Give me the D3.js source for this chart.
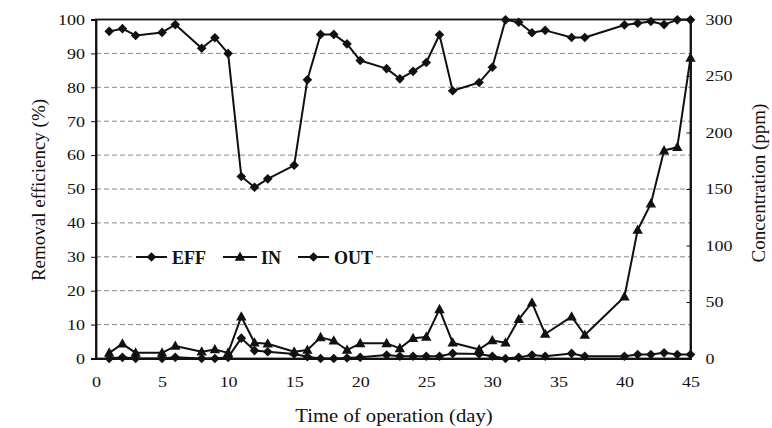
<!DOCTYPE html>
<html>
<head>
<meta charset="utf-8">
<script src="https://cdn.jsdelivr.net/npm/d3@7/dist/d3.min.js"></script>
<style>
body { margin: 0; background: #fff; }
svg text { font-family: "Liberation Serif", "Times New Roman", serif; fill: #111; }
</style>
</head>
<body>
<div id="chart"></div>
<script>
// days of operation that were sampled
var days = [1, 2, 3, 5, 6, 8, 9, 10, 11, 12, 13, 15, 16, 17, 18, 19, 20, 22, 23, 24, 25,
            26, 27, 29, 30, 31, 32, 33, 34, 36, 37, 40, 41, 42, 43, 44, 45];

// removal efficiency (%), left axis
var eff = [96.5, 97.3, 95.3, 96.2, 98.5, 91.5, 94.6, 90, 53.7, 50.5, 53, 57, 82.2, 95.6, 95.6, 92.8, 87.9, 85.5, 82.5, 84.7, 87.3,
           95.5, 79, 81.4, 85.9, 99.9, 99.2, 96.1, 96.8, 94.7, 94.7, 98.4, 98.9, 99.4, 98.5, 99.9, 99.9];

// inlet / outlet concentration (ppm), right axis
var conIn = [5, 13, 5, 5, 11, 6, 8, 5, 37, 14, 13, 6, 7.5, 18.7, 15.7, 7.5, 13.4, 13.4, 9, 18, 19,
             43.5, 14, 8, 16, 14, 34.7, 49.4, 21.7, 37, 20.8, 54.6, 113.7, 137, 184, 187, 266];
var conOut = [0, 1, 0, 0, 1, 0, 0, 1, 18, 7, 6, 4, 1.5, 0, 0, 0.5, 1, 3, 2, 2, 2,
              2, 4.5, 4, 2, 0, 1, 3, 2, 4.5, 2, 2, 3.5, 3.5, 5, 3.5, 3.5];

var xTicks = [0, 5, 10, 15, 20, 25, 30, 35, 40, 45];
var leftTicks = [0, 10, 20, 30, 40, 50, 60, 70, 80, 90, 100];
var rightTicks = [0, 50, 100, 150, 200, 250, 300];
var seriesNames = ["EFF", "IN", "OUT"];
var seriesShapes = ["diamond", "triangle", "diamond"];

var width = 772,
    height = 428;

var x = d3.scaleLinear().domain([0, 45]).range([96, 690.5]);
var y = d3.scaleLinear().domain([0, 100]).range([358.5, 19.5]);
var y2 = d3.scaleLinear().domain([0, 300]).range([358.5, 19.5]);

var shapes = {
  diamond: "M0,-4.8L4.8,0L0,4.8L-4.8,0Z",
  triangle: "M0,-5.5L5.2,3.8L-5.2,3.8Z"
};

var svg = d3.select("#chart").append("svg")
    .attr("width", width)
    .attr("height", height);

// dashed grid lines
svg.append("g")
    .attr("class", "grid")
  .selectAll("line")
    .data(leftTicks.slice(1, -1))
  .enter().append("line")
    .attr("x1", x(0))
    .attr("x2", x(45))
    .attr("y1", function(d) { return y(d); })
    .attr("y2", function(d) { return y(d); })
    .attr("stroke", "#8a8a8a")
    .attr("stroke-width", 1)
    .attr("stroke-dasharray", "5,3");

// frame
svg.append("rect")
    .attr("x", x(0))
    .attr("y", y(100))
    .attr("width", x(45) - x(0))
    .attr("height", y(0) - y(100))
    .attr("fill", "none")
    .attr("stroke", "#111")
    .attr("stroke-width", 1.8);

var xAxis = svg.append("g")
    .attr("transform", "translate(0," + y(0) + ")")
    .call(d3.axisBottom(x).tickValues(xTicks).tickSize(0).tickPadding(18));

var yAxis = svg.append("g")
    .attr("transform", "translate(" + x(0) + ",0)")
    .call(d3.axisLeft(y).tickValues(leftTicks).tickSize(5).tickPadding(6));

var yAxis2 = svg.append("g")
    .attr("transform", "translate(" + x(45) + ",0)")
    .call(d3.axisRight(y2).tickValues(rightTicks).tickSize(-4).tickPadding(15));

[xAxis, yAxis, yAxis2].forEach(function(g) {
  g.select(".domain").attr("stroke", "#111").attr("stroke-width", 1.8);
  g.selectAll(".tick line").attr("stroke", "#111");
  g.selectAll("text")
      .style("font-size", "15px")
      .attr("fill", "#111");
});

// slightly wide face like the scanned original
xAxis.selectAll("text").attr("transform", "scale(1.2,1)");
yAxis.selectAll("text").attr("transform", "scale(1.2,1)").attr("x", -11 / 1.2);
yAxis2.selectAll("text").attr("transform", "scale(1.2,1)").attr("x", 15 / 1.2);

// axis titles
svg.append("text")
    .attr("transform", "translate(394,422) scale(1.15,1)")
    .style("text-anchor", "middle")
    .style("font-size", "18px")
    .text("Time of operation (day)");

svg.append("text")
    .attr("transform", "translate(45,190) rotate(-90)")
    .style("text-anchor", "middle")
    .style("font-size", "19px")
    .text("Removal efficiency (%)");

svg.append("text")
    .attr("transform", "translate(765,183) rotate(-90)")
    .style("text-anchor", "middle")
    .style("font-size", "19px")
    .text("Concentration (ppm)");

// series
var series = [
  {name: "EFF", values: eff, scale: y, shape: "diamond"},
  {name: "IN", values: conIn, scale: y2, shape: "triangle"},
  {name: "OUT", values: conOut, scale: y2, shape: "diamond"}
];

var line = function(s) {
  return d3.line()
      .x(function(d, i) { return x(days[i]); })
      .y(function(d) { return s.scale(d); })(s.values);
};

var seriesG = svg.selectAll(".series")
    .data(series.slice().reverse())
  .enter().append("g")
    .attr("class", "series");

seriesG.append("path")
    .attr("d", line)
    .attr("fill", "none")
    .attr("stroke", "#111")
    .attr("stroke-width", 2)
    .attr("stroke-linejoin", "round");

seriesG.selectAll(".marker")
    .data(function(s) { return s.values.map(function(v, i) { return {s: s, v: v, day: days[i]}; }); })
  .enter().append("path")
    .attr("class", "marker")
    .attr("d", function(d) { return shapes[d.s.shape]; })
    .attr("transform", function(d) { return "translate(" + x(d.day) + "," + d.s.scale(d.v) + ")"; })
    .attr("fill", "#111");

// legend
svg.append("rect")
    .attr("x", 132)
    .attr("y", 245)
    .attr("width", 243)
    .attr("height", 24)
    .attr("fill", "#fff");

var legendX = [136, 223, 298];

var legend = svg.selectAll(".legend")
    .data(seriesNames)
  .enter().append("g")
    .attr("class", "legend")
    .attr("transform", function(d, i) { return "translate(" + legendX[i] + ",257)"; });

legend.append("line")
    .attr("x1", 0)
    .attr("x2", function(d, i) { return i == 1 ? 34 : 31; })
    .attr("stroke", "#111")
    .attr("stroke-width", 2);

legend.append("path")
    .attr("d", function(d, i) { return shapes[seriesShapes[i]]; })
    .attr("transform", function(d, i) { return "translate(" + (i == 1 ? 17 : 15.5) + ",0)"; })
    .attr("fill", "#111");

legend.append("text")
    .attr("x", function(d, i) { return i == 1 ? 38 : 36; })
    .attr("y", 7)
    .style("font-size", "18px")
    .style("font-weight", "bold")
    .text(function(d) { return d; });
</script>
</body>
</html>
